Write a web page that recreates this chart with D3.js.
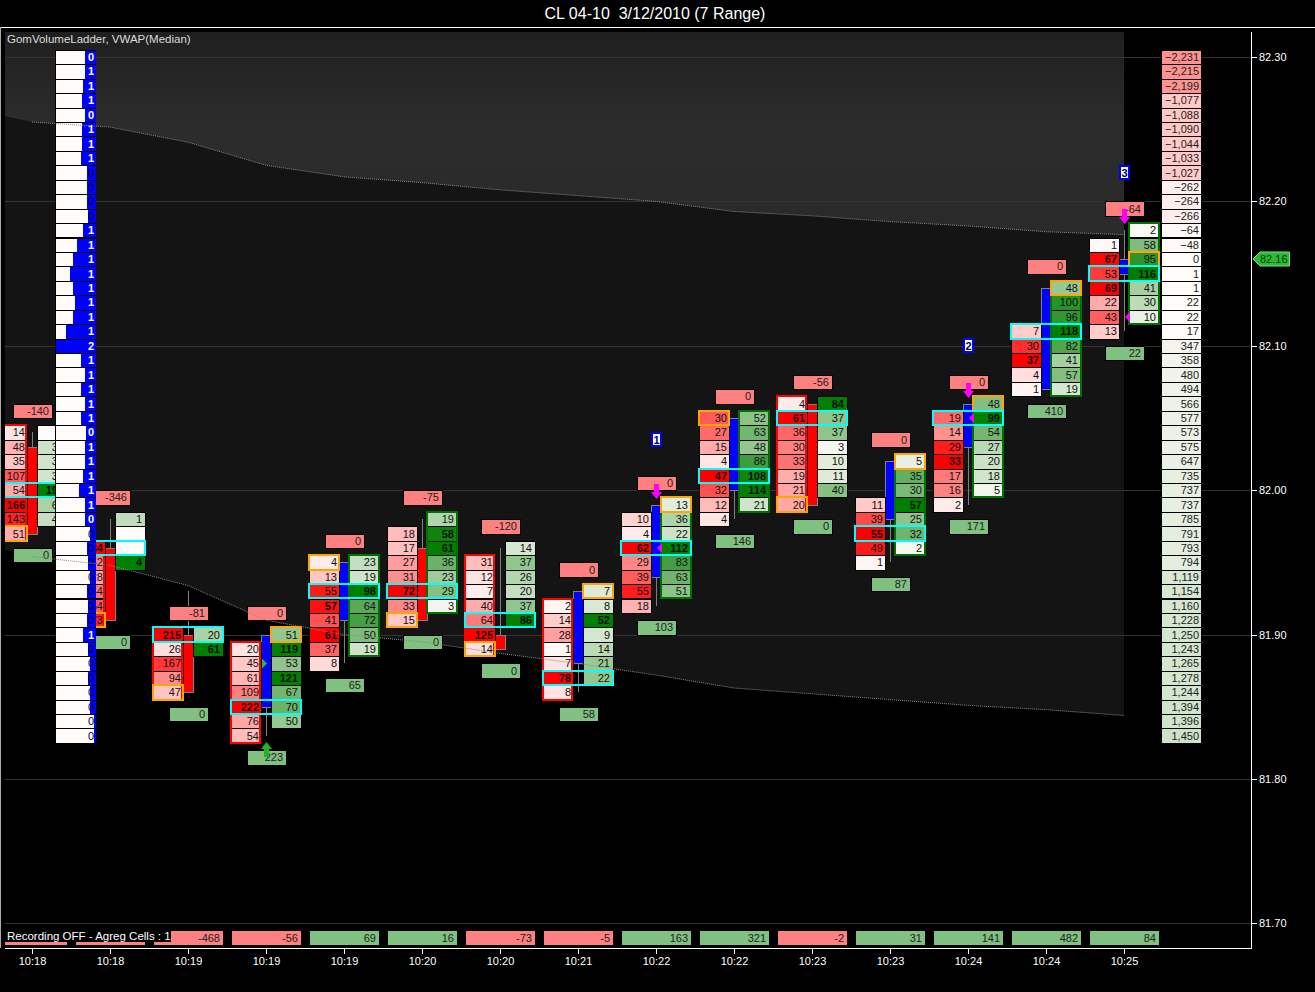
<!DOCTYPE html>
<html>
<head>
<meta charset="utf-8">
<style>
html,body{margin:0;padding:0;background:#000;overflow:hidden}
svg{display:block}
text{font-family:"Liberation Sans",Arial,sans-serif;font-size:11px}
.crisp rect,.crisp path.c,.crisp line{shape-rendering:crispEdges}
</style>
<script src="https://cdn.jsdelivr.net/npm/d3@7/dist/d3.min.js"></script>
</head>
<body>
<svg id="chart" width="1315" height="992"></svg>
<script>
const titleText = "CL 04-10  3/12/2010 (7 Range)";
const legendText = "GomVolumeLadder, VWAP(Median)";
const recordingText = "Recording OFF - Agreg Cells : 1";
const barTimes = ["10:18","10:18","10:19","10:19","10:19","10:20","10:20","10:21","10:22","10:22","10:23","10:23","10:24","10:24","10:25"];
const priceTicks = [82.30,82.20,82.10,82.00,81.90,81.80,81.70];
const lastPrice = 82.16;

const leftTop = [82.04,81.96,81.90,81.89,81.95,81.97,81.95,81.92,81.98,82.05,82.06,81.99,82.05,82.11,82.17];
const leftVols = [[14,48,35,107,54,166,143,51],[84,42,28,44,54,73],[215,26,167,94,47],[20,45,61,109,222,76,54],[4,13,55,57,41,61,37,8],[18,17,27,31,72,33,15],[31,12,7,40,64,125,14],[2,14,28,1,7,78,8],[10,4,62,29,39,55,18],[30,27,15,4,47,32,12,4],[4,61,36,30,33,19,21,20],[11,39,55,49,1],[19,14,29,33,17,16,2],[7,30,37,4,1],[1,67,53,69,22,43,13]];
const rightTop = [82.04,81.98,81.90,81.90,81.95,81.98,81.96,81.93,81.99,82.05,82.06,82.02,82.06,82.14,82.18];
const rightVols = [[0,38,34,36,190,62,44],[1,0,0,4],[20,61],[51,119,53,121,67,70,50],[23,19,98,64,72,50,19],[19,58,61,36,23,29,3],[14,37,26,20,37,86],[7,8,52,9,14,21,22],[13,36,22,112,83,63,51],[52,63,48,86,108,114,21],[84,37,37,3,10,11,40],[5,35,30,57,25,32,2],[48,99,54,27,20,18,5],[48,100,96,118,82,41,57,19],[2,58,95,116,41,30,10]];

const bodyTop = [82.03,81.96,81.90,81.90,81.95,81.96,81.90,81.93,81.99,82.05,82.06,82.02,82.06,82.14,82.16];
const bodyBottom = [81.97,81.91,81.86,81.85,81.91,81.91,81.89,81.88,81.94,82.00,81.99,81.98,82.03,82.07,82.15];
const wickHigh = [82.04,81.98,81.93,81.90,81.95,81.98,81.96,81.93,81.99,82.05,82.06,82.02,82.06,82.14,82.18];
const wickLow = [81.97,81.91,81.86,81.83,81.88,81.91,81.89,81.86,81.92,81.98,81.99,81.95,81.99,82.07,82.11];
const barRising = [0,0,0,1,1,0,0,1,1,1,0,1,1,1,1];
const framedSide = ["L","L","L","L","R","R","L","L","R","R","L","R","R","R","R"];
const openSide = ["L","L","L","R","L","L","L","R","R","L","L","R","R","R","R"];
const openPrice = [81.97,81.91,81.86,81.90,81.95,81.91,81.89,81.93,81.99,82.05,81.99,82.02,82.06,82.14,82.16];
const pocPrice = [82.00,81.96,81.90,81.85,81.93,81.93,81.91,81.87,81.96,82.01,82.05,81.97,82.05,82.11,82.15];
const deltaTop = [-140,-346,-81,0,0,-75,-120,0,0,0,-56,0,0,0,-64];
const deltaBottom = [0,0,0,223,65,0,0,58,103,146,0,87,171,410,22];
const barTotals = [null,null,-468,-56,69,16,-73,-5,163,321,-2,31,141,482,84];

const downArrowBars = [8,12,14];
const upArrowBars = [3];
const magentaTriBars = [8,12,14];
const magentaTriPrices = [81.96,82.05,82.12];
const greenTriBars = [3];
const greenTriPrices = [81.88];
const numberedBars = [8,12,14];
const numberedPrices = [82.035,82.10,82.22];
const numberedLabels = ["1","2","3"];

const ladderTopPrice = 82.30;
const ladderVols = [27,27,33,35,27,35,35,37,24,22,24,19,32,49,59,67,57,54,59,75,100,37,29,37,29,37,26,27,29,32,42,27,27,14,22,19,16,24,19,24,32,19,16,19,14,16,6,4];
const ladderLabels = [0,1,1,1,0,1,1,1,0,0,0,0,1,1,1,1,1,1,1,1,2,1,1,1,1,1,0,1,1,1,1,1,0,0,0,0,0,0,0,0,1,0,0,0,0,0,0,0];
const profileValues = [-2231,-2215,-2199,-1077,-1088,-1090,-1044,-1033,-1027,-262,-264,-266,-64,-48,0,1,1,22,22,17,347,358,480,494,566,577,573,575,647,735,737,737,785,791,793,794,1119,1154,1160,1228,1250,1243,1265,1278,1244,1394,1396,1450];

const bandIndex = [-0.35,0,1,2,3,4,5,6,7,8,9,10,11,12,13,14];
const bandUpper = [82.259,82.255,82.2515,82.241,82.225,82.217,82.213,82.208,82.204,82.200,82.193,82.190,82.186,82.183,82.179,82.177];
const bandLower = [81.959,81.954,81.948,81.934,81.910,81.900,81.895,81.887,81.880,81.872,81.863,81.859,81.855,81.851,81.848,81.844];

const svg = d3.select("#chart");
const W = 1315, H = 992;
const plotLeft = 5, plotRight = 1251, plotTop = 32, plotBottom = 948;
const y = d3.scaleLinear().domain([82.30,81.70]).range([57,923.4]);
const x = d3.scaleLinear().domain([0,14]).range([32,1124]);
const rowStep = 0.01;
const round2 = v => Math.round(v*100)/100;
const rowY0 = p => Math.round(y(p+rowStep/2));
const rowY1 = p => Math.round(y(p-rowStep/2));
const BASE = "#fffbf9";
const fmt = d3.format(",");

const defs = svg.append("defs");
const grad = defs.append("linearGradient").attr("id","topBand").attr("x1",0).attr("x2",0).attr("y1",0).attr("y2",1);
grad.append("stop").attr("offset","0%").attr("stop-color","#1f1f1f");
grad.append("stop").attr("offset","45%").attr("stop-color","#2c2c2c");
grad.append("stop").attr("offset","100%").attr("stop-color","#2a2a2a");
defs.append("clipPath").attr("id","plotClip").append("rect").attr("x",plotLeft).attr("y",plotTop).attr("width",plotRight-plotLeft).attr("height",plotBottom-plotTop);

svg.append("rect").attr("width",W).attr("height",H).attr("fill","#000");
const root = svg.append("g").attr("class","crisp");
root.append("line").attr("x1",0).attr("x2",W).attr("y1",27.5).attr("y2",27.5).attr("stroke","#fff");
root.append("line").attr("x1",0.5).attr("x2",0.5).attr("y1",27).attr("y2",948).attr("stroke","#aaa");

svg.append("text").attr("x",655).attr("y",18.5).attr("text-anchor","middle").attr("fill","#fff")
  .style("font-size","16px").style("white-space","pre").text(titleText);

const plot = svg.append("g").attr("clip-path","url(#plotClip)");

const upArea = d3.area().x((d,i)=>x(bandIndex[i])).y0(plotTop).y1(d=>y(d));
const midArea = d3.area().x((d,i)=>x(bandIndex[i])).y0((d,i)=>y(bandUpper[i])).y1((d,i)=>y(bandLower[i]));
plot.append("path").datum(bandUpper).attr("d",midArea).attr("fill","#141414");
plot.append("path").datum(bandUpper).attr("d",upArea).attr("fill","url(#topBand)");

const gridG = plot.append("g").attr("class","crisp");
gridG.selectAll("line").data(priceTicks).join("line")
  .attr("x1",plotLeft).attr("x2",plotRight)
  .attr("y1",d=>Math.round(y(d))+0.5).attr("y2",d=>Math.round(y(d))+0.5)
  .attr("stroke","#333");

const redScale = d3.interpolateRgb(BASE,"#ff0000");
const greenScale = d3.interpolateRgb(BASE,"#007f00");

function drawCells(g, top, vols, xa, scale){
  const mx = d3.max(vols);
  const rows = vols.map((v,i)=>({v, p:round2(top-i*rowStep)}));
  g.append("g").selectAll("rect").data(rows).join("rect")
    .attr("x",xa+0.5).attr("width",30)
    .attr("y",d=>rowY0(d.p)+0.5).attr("height",d=>rowY1(d.p)-rowY0(d.p))
    .attr("fill",d=>scale(mx?d.v/mx:0)).attr("stroke","#000").attr("stroke-width",1);
  return {rows,mx};
}
function drawCellText(g, cells, tx){
  g.append("g").selectAll("text").data(cells.rows.filter(d=>d.v!==0)).join("text")
    .attr("x",tx).attr("y",d=>y(d.p)+4).attr("text-anchor","end")
    .attr("fill","#111")
    .attr("font-weight",d=>d.v/cells.mx>=0.93?"bold":"normal")
    .text(d=>d.v);
}
function valueBox(g, x0, x1, p, val, fill){
  g.append("rect").attr("x",x0+0.5).attr("width",x1-x0)
    .attr("y",rowY0(p)+0.5).attr("height",rowY1(p)-rowY0(p))
    .attr("fill",fill).attr("stroke","#000");
  g.append("text").attr("x",x1-3).attr("y",y(p)+4).attr("text-anchor","end").attr("fill","#222").text(val);
}

const BOXRED = "#ff8080", BOXGREEN = "#80c080";
barTimes.forEach((t,i)=>{
  const cx = Math.round(x(i));
  const g = plot.append("g").attr("class","crisp");
  const lx = cx-35, rx = cx+5;
  const wx = cx+0.5;
  g.append("line").attr("x1",wx).attr("x2",wx).attr("y1",y(wickHigh[i])).attr("y2",y(wickLow[i])).attr("stroke","#808080");
  g.append("rect").attr("x",cx-5+0.5).attr("width",10)
    .attr("y",Math.round(y(bodyTop[i]))+0.5).attr("height",Math.round(y(bodyBottom[i]))-Math.round(y(bodyTop[i])))
    .attr("fill",barRising[i]?"#0000ff":"#ff0000").attr("stroke","#808080");
  const lc = drawCells(g,leftTop[i],leftVols[i],lx,redScale);
  const rc = drawCells(g,rightTop[i],rightVols[i],rx,greenScale);
  drawCellText(g,lc,cx-7);
  drawCellText(g,rc,cx+32);
  const fs = framedSide[i];
  const fTop = fs==="L"?leftTop[i]:rightTop[i];
  const fLen = fs==="L"?leftVols[i].length:rightVols[i].length;
  const fy0 = rowY0(fTop), fy1 = rowY1(round2(fTop-(fLen-1)*rowStep));
  g.append("rect").attr("x",fs==="L"?cx-35:cx+5).attr("width",fs==="L"?29:30).attr("y",fy0).attr("height",fy1-fy0)
    .attr("fill","none").attr("stroke",fs==="L"?"#ff0000":"#007000").attr("stroke-width",2);
  const op = openPrice[i], ox = openSide[i]==="L"?lx:rx;
  g.append("rect").attr("x",ox).attr("width",30).attr("y",rowY0(op)).attr("height",rowY1(op)-rowY0(op))
    .attr("fill","none").attr("stroke","#ffa500").attr("stroke-width",2);
  const pp = pocPrice[i];
  g.append("rect").attr("x",lx).attr("width",70).attr("y",rowY0(pp)).attr("height",rowY1(pp)-rowY0(pp))
    .attr("fill","none").attr("stroke","#00ffff").attr("stroke-width",2);
  const hiRow = Math.max(leftTop[i],rightTop[i]);
  const loRow = Math.min(round2(leftTop[i]-(leftVols[i].length-1)*rowStep),round2(rightTop[i]-(rightVols[i].length-1)*rowStep));
  valueBox(g,cx-19,cx+20,hiRow+0.015,deltaTop[i],BOXRED);
  valueBox(g,cx-19,cx+20,loRow-0.015,deltaBottom[i],BOXGREEN);
});

function arrowPath(cx,tip,dir){
  const s = dir;
  const base = tip-s*15, neck = tip-s*7;
  return `M${cx-2},${base}L${cx+3},${base}L${cx+3},${neck}L${cx+6},${neck}L${cx+0.5},${tip}L${cx-5},${neck}L${cx-2},${neck}Z`;
}
const sig = plot.append("g");
sig.selectAll("path.dn").data(downArrowBars).join("path").attr("class","dn")
  .attr("d",i=>arrowPath(Math.round(x(i)),Math.round(y(wickHigh[i]))-6,1)).attr("fill","#ff00ff");
sig.selectAll("path.up").data(upArrowBars).join("path").attr("class","up")
  .attr("d",i=>arrowPath(Math.round(x(i)),Math.round(y(wickLow[i]))+6,-1)).attr("fill","#22b422");
magentaTriBars.forEach((b,k)=>{
  const cx=Math.round(x(b)), py=y(magentaTriPrices[k]);
  sig.append("path").attr("d",`M${cx+6},${py-5}L${cx+1},${py}L${cx+6},${py+5}Z`).attr("fill","#ff00ff");
});
greenTriBars.forEach((b,k)=>{
  const cx=Math.round(x(b)), py=y(greenTriPrices[k]);
  sig.append("path").attr("d",`M${cx-4},${py-5}L${cx+1},${py}L${cx-4},${py+5}Z`).attr("fill","#22c322");
});
numberedBars.forEach((b,k)=>{
  const cx=Math.round(x(b)), py=Math.round(y(numberedPrices[k]));
  const g=sig.append("g").attr("class","crisp");
  g.append("rect").attr("x",cx-5).attr("y",py-8).attr("width",11).attr("height",15).attr("fill","#0000ff");
  g.append("rect").attr("x",cx-3).attr("y",py-6).attr("width",7).attr("height",11).attr("fill","#fff");
  g.append("text").attr("x",cx+0.5).attr("y",py+4).attr("text-anchor","middle").attr("fill","#000060").attr("font-weight","bold").text(numberedLabels[k]);
});

const ladder = plot.append("g").attr("class","crisp");
const ladderW = d3.scaleLinear().domain([0,100]).range([0,39.5]);
ladderVols.forEach((v,i)=>{
  const p = round2(ladderTopPrice-i*rowStep);
  const y0=rowY0(p), y1=rowY1(p), bw=Math.round(ladderW(v));
  ladder.append("rect").attr("x",55.5).attr("width",40).attr("y",y0+0.5).attr("height",y1-y0).attr("fill",BASE).attr("stroke","#000");
  ladder.append("rect").attr("x",95.5-bw).attr("width",bw).attr("y",y0+1).attr("height",y1-y0-1).attr("fill","#0000ff");
  const light = v>=25;
  ladder.append("text").attr("x",94).attr("y",y(p)+4).attr("text-anchor","end")
    .attr("fill",light?"#fff":"#000028").attr("font-weight",light?"bold":"normal").text(ladderLabels[i]);
});

const prof = plot.append("g").attr("class","crisp");
const profMax = d3.max(profileValues,d=>Math.abs(d));
profileValues.forEach((v,i)=>{
  const p = round2(ladderTopPrice-i*rowStep);
  const y0=rowY0(p), y1=rowY1(p);
  const fill = v<0 ? redScale(Math.abs(v)/profMax*0.42) : greenScale(v/profMax*0.3);
  prof.append("rect").attr("x",1161.5).attr("width",40).attr("y",y0+0.5).attr("height",y1-y0).attr("fill",fill).attr("stroke","#000");
  prof.append("text").attr("x",1199).attr("y",y(p)+4).attr("text-anchor","end").attr("fill","#222").text(fmt(v));
});

const dotted = d3.line().x((d,i)=>x(bandIndex[i+1])).y(d=>y(d));
[bandUpper,bandLower].forEach(a=>{
  plot.append("path").datum(a.slice(1)).attr("d",dotted).attr("fill","none")
    .attr("stroke","#8a8a8a").attr("stroke-width",1).attr("stroke-dasharray","1,1");
});

const totals = plot.append("g").attr("class","crisp");
barTotals.forEach((v,i)=>{
  const cx=Math.round(x(i));
  totals.append("rect").attr("x",cx-34).attr("width",69).attr("y",931).attr("height",14).attr("fill",(v===null||v<0)?BOXRED:BOXGREEN);
  if(v!==null) totals.append("text").attr("x",cx+32).attr("y",942).attr("text-anchor","end").attr("fill","#222").text(v);
});
totals.append("rect").attr("x",plotLeft).attr("y",930).attr("width",166).attr("height",12).attr("fill","#000");
plot.append("text").attr("x",7).attr("y",940).attr("fill","#fff").style("font-size","11.5px").text(recordingText);
plot.append("text").attr("x",7).attr("y",43).attr("fill","#ddd").style("font-size","11.5px").text(legendText);

const xAxis = d3.axisBottom(x).tickValues(d3.range(barTimes.length)).tickFormat(i=>barTimes[i]).tickSize(6).tickPadding(3).tickSizeOuter(0);
const yAxis = d3.axisRight(y).tickValues(priceTicks).tickFormat(d3.format(".2f")).tickSize(6).tickPadding(2).tickSizeOuter(0);
const gx = svg.append("g").attr("transform",`translate(0,${plotBottom})`).call(xAxis);
const gy = svg.append("g").attr("transform",`translate(${plotRight},0)`).call(yAxis);
[gx,gy].forEach(g=>{
  g.select(".domain").remove();
  g.selectAll("line").attr("stroke","#fff").attr("shape-rendering","crispEdges");
  g.selectAll("text").attr("fill","#fff").style("font-family",'"Liberation Sans",Arial,sans-serif').style("font-size","11px");
});
root.append("line").attr("x1",plotLeft).attr("x2",plotRight+1).attr("y1",plotBottom+0.5).attr("y2",plotBottom+0.5).attr("stroke","#fff");
root.append("line").attr("x1",plotRight+0.5).attr("x2",plotRight+0.5).attr("y1",plotTop).attr("y2",plotBottom+1).attr("stroke","#fff");

const ly = Math.round(y(lastPrice));
svg.append("path").attr("d",`M1253,${ly}L1260,${ly-7}L1289.5,${ly-7}L1289.5,${ly+7}L1260,${ly+7}Z`)
  .attr("fill","#26bd34").attr("stroke","#7fe07f");
svg.append("text").attr("x",1260).attr("y",ly+4).attr("fill","#0a300a").text(lastPrice.toFixed(2));
</script>
</body>
</html>
